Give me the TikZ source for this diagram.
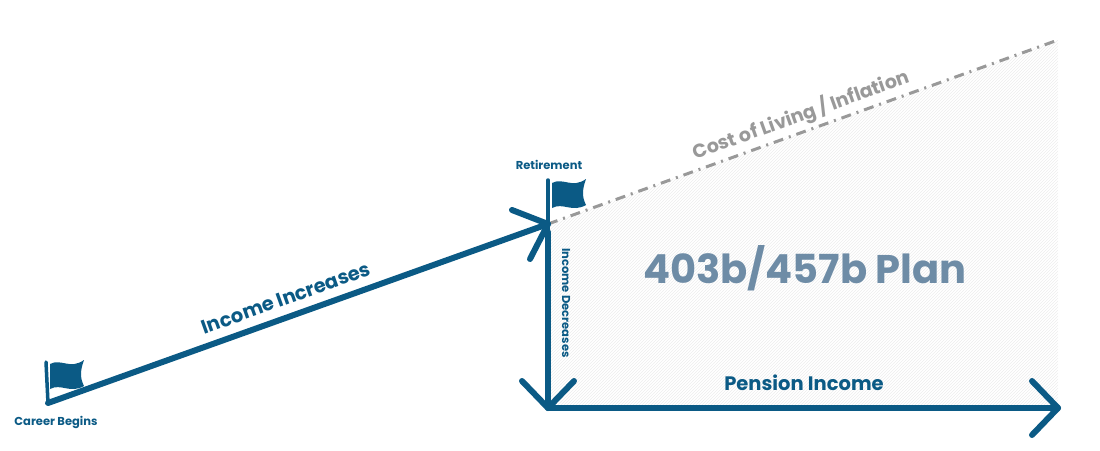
\documentclass[tikz,border=0pt]{standalone}
\usepackage{fontspec}
\setmainfont{Poppins}
\usetikzlibrary{patterns}
\definecolor{blu}{HTML}{0B5A85}
\definecolor{pl}{HTML}{6E8CA6}
\definecolor{gr}{HTML}{999999}
\begin{document}
\begin{tikzpicture}[x=1pt,y=-1pt,
 thick line/.style={blu,line width=6pt,line cap=round,line join=round},
 pole/.style={blu,line width=3.5pt,line cap=round},
 lbl/.style={blu,font=\bfseries\fontsize{11.5}{12}\selectfont},
 flag/.pic={\fill[blu] (0,0) .. controls (11,-6) and (20,6) .. (34,-4) .. controls (30,7) and (30,14) .. (34,22) .. controls (20,30) and (11,19) .. (0,25) -- cycle;}]
\useasboundingbox (0,0) rectangle (1100,450);
\fill[pattern=north east lines,pattern color=black!7] (548,224) -- (1058,40) -- (1058,408) -- (548,408) -- cycle;
\coordinate (cb) at (48,403);
\coordinate (rt) at (548,224);
\coordinate (bot) at (548,408);
\coordinate (end) at (1058,408);
\coordinate (top) at (1058,40);
\draw[gr,line width=3pt,dash pattern=on 10pt off 6pt on 2pt off 6pt] (rt) -- (top);
\draw[pole] (46,362) -- (cb);
\draw[pole] (548,180) -- (bot);
\pic at (50,364) {flag};
\pic at (552,183) {flag};
\draw[thick line] (cb) -- (rt);
\draw[thick line] (512,210) -- (rt) -- (530,259);
\draw[thick line] (548,232) -- (bot);
\draw[thick line] (522,381) -- (bot) -- (574,381);
\draw[thick line] (bot) -- (end);
\draw[thick line] (1032,381) -- (end) -- (1032,435);
\node[lbl] (t1) at (549,165) {Retirement};
\node[lbl] (t2) at (56,422) {Career Begins};
\node[lbl,rotate=-90] (t3) at (566,303) {Income Decreases};
\node[blu,font=\bfseries\fontsize{19.5}{20}\selectfont,rotate=19.7] (t4) at (286,298) {Income Increases};
\node[gr,font=\bfseries\fontsize{19}{20}\selectfont,rotate=19.7] (t5) at (801,115) {Cost of Living / Inflation};
\node[pl,font=\bfseries\fontsize{40}{44}\selectfont] (t6) at (805,268) {403b/457b Plan};
\node[blu,font=\bfseries\fontsize{19.5}{20}\selectfont] (t7) at (804,383) {Pension Income};
\end{tikzpicture}
\end{document}
